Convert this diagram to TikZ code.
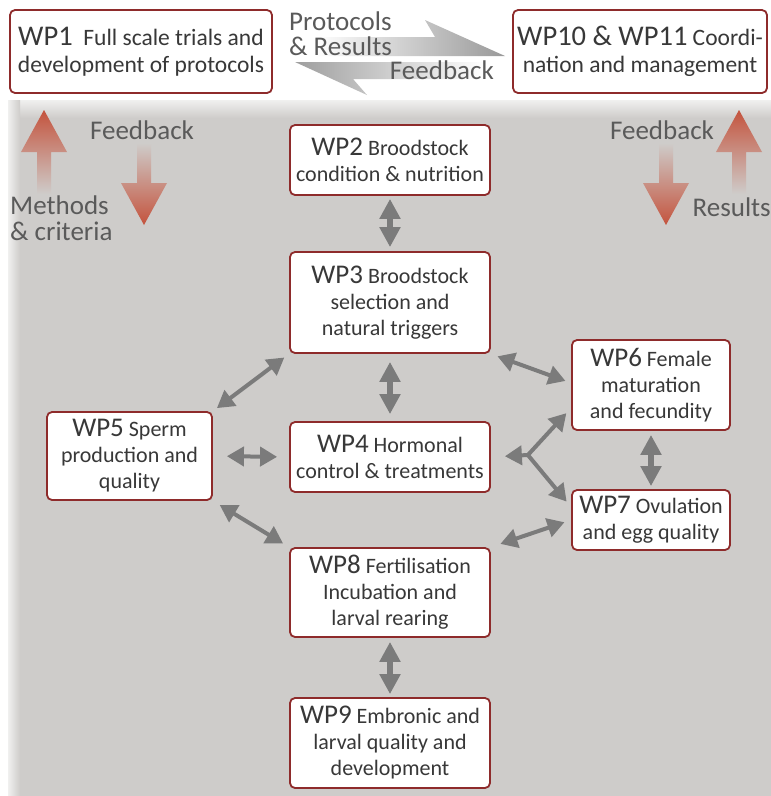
\documentclass[tikz,border=0pt]{standalone}
\usepackage{fontspec}
\setmainfont{Carlito}
\usetikzlibrary{arrows.meta,calc}
\definecolor{boxred}{HTML}{8E2B2B}
\definecolor{txt}{HTML}{383838}
\definecolor{lbl}{HTML}{5A5A5A}
\definecolor{arr}{HTML}{7B7B7B}
\definecolor{panel}{HTML}{CECCCA}
\definecolor{redarr}{HTML}{C4533D}
\newcommand\wpn[1]{{\fontsize{27}{26}\selectfont #1}}
\newcommand\wpt[1]{{\fontsize{28.5}{26}\selectfont #1}}
\newcommand\redup[3]{% x, tip y, tail y
  \shade[top color=redarr, middle color=redarr!80!panel, bottom color=panel]
    (#1,#2) -- ({#1+23},{#2+42}) -- ({#1+7},{#2+42}) -- ({#1+7},#3)
    -- ({#1-7},#3) -- ({#1-7},{#2+42}) -- ({#1-23},{#2+42}) -- cycle;}
\newcommand\reddown[3]{% x, tip y, tail y
  \shade[bottom color=redarr, middle color=redarr!80!panel, top color=panel]
    (#1,#2) -- ({#1+23},{#2-42}) -- ({#1+7},{#2-42}) -- ({#1+7},#3)
    -- ({#1-7},#3) -- ({#1-7},{#2-42}) -- ({#1-23},{#2-42}) -- cycle;}
\tikzset{
  wp/.style={draw=boxred, line width=1.8pt, rounded corners=5pt, fill=white,
    text=txt, align=center, inner sep=0pt,
    font=\fontsize{22}{26}\selectfont},
  wptop/.style={wp, font=\fontsize{23.5}{27}\selectfont},
  lab/.style={text=lbl, font=\fontsize{27}{26}\selectfont, inner sep=0pt},
  varr/.style={draw=arr, line width=6pt,
    {Triangle[length=20pt,width=20pt]}-{Triangle[length=20pt,width=20pt]}},
  darr/.style={draw=arr, line width=4pt,
    {Triangle[length=17pt,width=19pt]}-{Triangle[length=17pt,width=19pt]}},
  farr/.style={draw=arr, line width=4pt, -{Triangle[length=17pt,width=19pt]}},
}
\begin{document}
\begin{tikzpicture}[x=1pt,y=-1pt]
\useasboundingbox (0,0) rectangle (771,796);
\fill[white] (0,0) rectangle (771,796);
% panel
\fill[panel] (8,100) rectangle (771,796);
\shade[top color=white!70!panel, bottom color=panel] (8,100) rectangle (771,118);
\shade[left color=white!70!panel, right color=panel] (8,100) rectangle (20,796);

% top grey arrows
\shade[left color=white, right color=black!40] (315,56) -- (315,37) -- (435,37) -- (425,20) -- (505,56) -- cycle;
\shade[left color=black!38, right color=white] (295,62) -- (485,62) -- (485,79) -- (353,79) -- (367,95) -- cycle;
\node[lab, anchor=west] (tp1) at (289,21) {Protocols};
\node[lab, anchor=west] (tp2) at (289,46) {\& Results};
\node[lab, anchor=east] (tfb) at (494,70) {Feedback};

% boxes
\node[wptop, minimum width=262pt, minimum height=83pt] (wp1) at (141,51.5)
  {\wpt{WP1}\ \ Full scale trials and\\development of protocols};
\node[wptop, minimum width=254pt, minimum height=83pt] (wp10) at (640,51.5)
  {\wpt{WP10 \& WP11}\ Coordi-\\nation and management};
\node[wp, minimum width=200pt, minimum height=70pt] (wp2) at (390,160)
  {\wpn{WP2} Broodstock\\condition \& nutrition};
\node[wp, minimum width=200pt, minimum height=101pt] (wp3) at (390,302.5)
  {\wpn{WP3} Broodstock\\selection and\\natural triggers};
\node[wp, minimum width=200pt, minimum height=70pt] (wp4) at (390,457)
  {\wpn{WP4} Hormonal\\control \& treatments};
\node[wp, minimum width=165pt, minimum height=88pt] (wp5) at (129.5,456)
  {\wpn{WP5} Sperm\\production and\\quality};
\node[wp, minimum width=158pt, minimum height=90pt] (wp6) at (651,385)
  {\wpn{WP6} Female\\maturation\\and fecundity};
\node[wp, minimum width=158pt, minimum height=60pt] (wp7) at (651,520)
  {\wpn{WP7} Ovulation\\and egg quality};
\node[wp, minimum width=200pt, minimum height=89pt] (wp8) at (390,592.5)
  {\wpn{WP8} Fertilisation\\Incubation and\\larval rearing};
\node[wp, minimum width=200pt, minimum height=90pt] (wp9) at (390,743)
  {\wpn{WP9} Embronic and\\larval quality and\\development};

% red arrows and labels
\redup{44}{110}{194}
\reddown{144}{225}{143}
\reddown{666}{225}{143}
\redup{739}{110}{194}
\node[lab, anchor=center] (fbl) at (142,130) {Feedback};
\node[lab, anchor=west, align=left] (mc) at (10,218) {Methods\\\& criteria};
\node[lab, anchor=center] (fbr) at (662,130) {Feedback};
\node[lab, anchor=east] (res) at (771,207) {Results};

% grey connectors
\draw[varr, shorten <=3pt, shorten >=4pt] (wp2.south) -- (wp3.north);
\draw[varr, shorten <=8pt, shorten >=7pt] (wp3.south) -- (wp4.north);
\draw[varr, shorten <=4pt, shorten >=3pt] (wp8.south) -- (wp9.north);
\draw[varr, shorten <=4pt, shorten >=3pt] (wp6.south) -- (wp7.north);
\draw[darr, shorten <=12pt, shorten >=14pt] (wp4.west) -- (wp5.east);
\draw[darr, shorten <=6pt, shorten >=5pt] (wp3.south west) -- (wp5.north east);
\draw[darr, shorten <=7pt, shorten >=6pt] (wp3.south east) -- ($(wp6.west)+(0,-2)$);
\draw[darr, shorten <=8pt, shorten >=7pt] (wp5.south east) -- (wp8.north west);
\draw[darr, shorten <=10pt, shorten >=7pt] (wp8.north east) -- (wp7.west);
\coordinate (j) at ($(wp4.east)+(37,-2)$);
\draw[farr, shorten >=14pt] (j) -- (wp4.east);
\draw[farr, shorten >=7pt] (j) -- ($(wp6.west)+(0,23)$);
\draw[farr, shorten >=7pt] (j) -- ($(wp7.west)+(0,-13)$);
\end{tikzpicture}
\end{document}
